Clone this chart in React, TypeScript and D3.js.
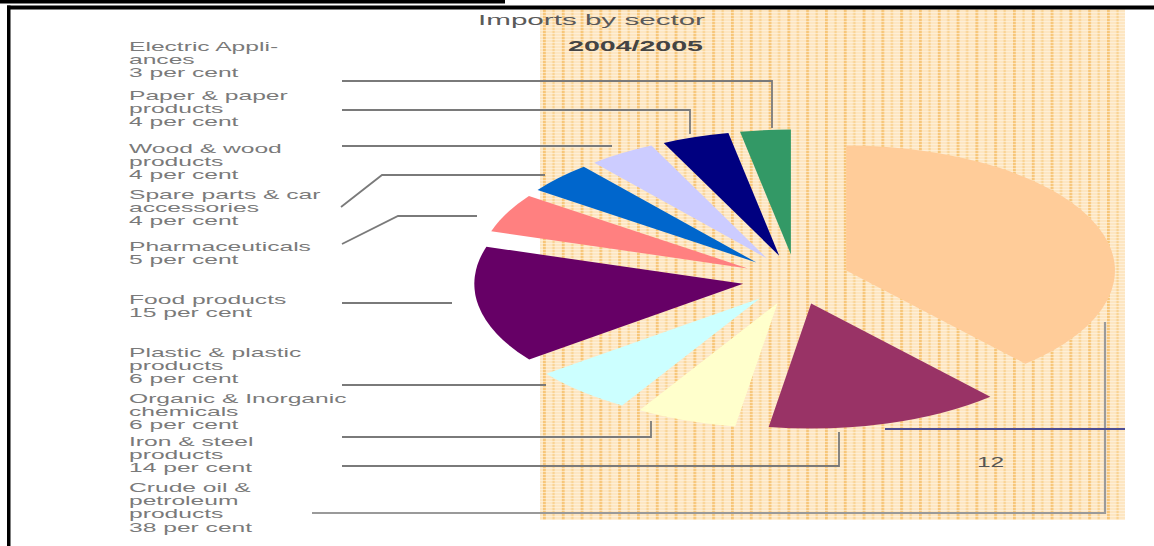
import React from "react";
import * as d3 from "d3";

// ---- data ----
const sectors = [
  "Crude oil & petroleum products",
  "Iron & steel products",
  "Organic & Inorganic chemicals",
  "Plastic & plastic products",
  "Food products",
  "Pharmaceuticals",
  "Spare parts & car accessories",
  "Wood & wood products",
  "Paper & paper products",
  "Electric Appliances",
];
const shares = [38, 14, 6, 6, 15, 5, 4, 4, 4, 3];
const sliceColors = [
  "#ffcc99",
  "#993366",
  "#ffffcc",
  "#ccffff",
  "#660066",
  "#ff8080",
  "#0066cc",
  "#ccccff",
  "#000080",
  "#339966",
];

const labelLines = [
  ["Electric Appli-", "ances", "3 per cent"],
  ["Paper & paper", "products", "4 per cent"],
  ["Wood & wood", "products", "4 per cent"],
  ["Spare parts & car", "accessories", "4 per cent"],
  ["Pharmaceuticals", "5 per cent"],
  ["Food products", "15 per cent"],
  ["Plastic & plastic", "products", "6 per cent"],
  ["Organic & Inorganic", "chemicals", "6 per cent"],
  ["Iron & steel", "products", "14 per cent"],
  ["Crude oil &", "petroleum", "products", "38 per cent"],
];
const titleText = "Imports by sector";
const periodText = "2004/2005";
const pageNumber = "12";

// ---- layout ----
const W = 1154;
const H = 546;
const CX = 796;
const CY = 279.5;
const R = 125;
const STRETCH = 2.15;
const EXPLODE = 25;
const labelFirstCenters = [46, 95, 148, 194, 246, 299, 352, 398, 441, 487];
const leaders: [number, number][][] = [
  [[342, 81], [772, 81], [772, 128]],
  [[342, 110], [690, 110], [690, 134]],
  [[342, 146], [612, 146]],
  [[341, 207], [382, 175], [545, 175]],
  [[342, 244], [398, 216], [477, 216]],
  [[342, 303], [452, 303]],
  [[342, 385], [546, 385]],
  [[342, 437], [651, 437], [651, 421]],
  [[342, 466], [839, 466], [839, 432]],
  [[312, 513], [1105, 513], [1105, 322]],
];

export default function App() {
  const pie = d3
    .pie<number>()
    .sort(null)
    .value((d) => d)
    .startAngle(0)
    .endAngle(2 * Math.PI);
  const arcs = pie(shares);
  const arcGen = d3.arc<d3.PieArcDatum<number>>().innerRadius(0).outerRadius(R);
  const line = d3.line();

  return (
    <svg
      width={W}
      height={H}
      style={{ position: "absolute", left: 0, top: 0, background: "#fff" }}
      fontFamily="'Liberation Sans', Arial, sans-serif"
    >
      <defs>
        <pattern
          id="grid"
          patternUnits="userSpaceOnUse"
          x={543}
          y={0}
          width={18.8}
          height={3}
        >
          <rect width={18.8} height={3} fill="#fde6c2" />
          <rect x={0} width={2.8} height={3} fill="#f7c679" />
          <rect x={9.4} width={2.2} height={3} fill="#f9d292" />
          <rect x={0} y={0} width={18.8} height={1} fill="#fff5e4" opacity={0.6} />
        </pattern>
      </defs>

      {/* background grid panel */}
      <rect x={540} y={9} width={585} height={511} fill="url(#grid)" />

      {/* frame */}
      <rect x={0} y={0} width={505} height={3.5} fill="#000" />
      <rect x={7} y={5.5} width={W - 7} height={4} fill="#000" />
      <rect x={7} y={5.5} width={3.5} height={H} fill="#000" />

      {/* title */}
      <text
        x={478}
        y={25}
        fontSize={14}
        fill="#5a5a5a"
        textLength={227}
        lengthAdjust="spacingAndGlyphs"
      >
        {titleText}
      </text>
      <text
        x={568}
        y={51}
        fontSize={14}
        fontWeight="bold"
        fill="#444"
        textLength={135}
        lengthAdjust="spacingAndGlyphs"
      >
        {periodText}
      </text>

      {/* pie */}
      <g transform={`translate(${CX},${CY}) scale(${STRETCH},1)`}>
        {arcs.map((a, i) => {
          const mid = (a.startAngle + a.endAngle) / 2;
          const dx = Math.sin(mid) * EXPLODE;
          const dy = -Math.cos(mid) * EXPLODE;
          return (
            <path
              key={sectors[i]}
              d={arcGen(a) || ""}
              transform={`translate(${dx},${dy})`}
              fill={sliceColors[i]}
            />
          );
        })}
      </g>

      {/* leader lines */}
      {leaders.map((pts, i) => (
        <path
          key={i}
          d={line(pts) || ""}
          fill="none"
          stroke={i === 9 ? "#9a9a9a" : "#7a7a7a"}
          strokeWidth={i === 9 ? 2.2 : 1.8}
        />
      ))}
      <line x1={885} y1={429} x2={1125} y2={429} stroke="#4d4d94" strokeWidth={2} />

      {/* labels */}
      {labelLines.map((lines, i) =>
        lines.map((t, j) => (
          <text
            key={`${i}-${j}`}
            transform={`translate(129,${labelFirstCenters[i] + 4.8 + j * 13.3}) scale(1.97,1)`}
            fontSize={12.5}
            fill="#7a7a7a"
          >
            {t}
          </text>
        ))
      )}

      <text
        transform={`translate(977,467) scale(1.75,1)`}
        fontSize={14}
        fill="#555"
      >
        {pageNumber}
      </text>
    </svg>
  );
}
